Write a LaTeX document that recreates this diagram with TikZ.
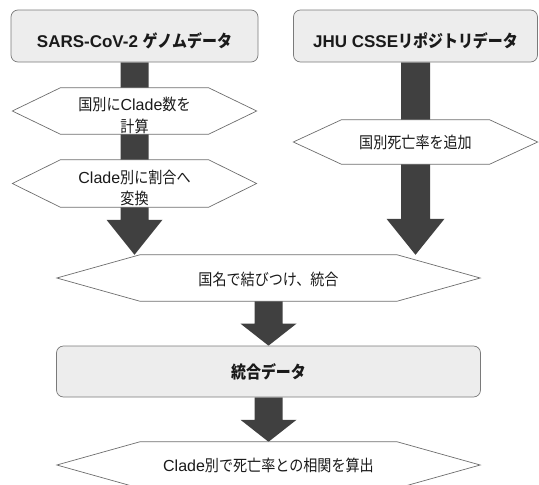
\documentclass[tikz,border=0pt]{standalone}
\usepackage{fontspec}
\setmainfont{Noto Sans CJK JP}[FakeStretch=0.88]
\newfontfamily\latinf{Liberation Sans}
\usetikzlibrary{calc,backgrounds}
\definecolor{boxfill}{HTML}{EDEDED}
\definecolor{boxline}{HTML}{7A7A7A}
\definecolor{arrowc}{HTML}{404040}
\definecolor{hexline}{HTML}{6E6E6E}
\definecolor{txt}{HTML}{1A1A1A}
\tikzset{
  box/.style={draw=boxline, fill=boxfill, rounded corners=7pt, line width=0.7pt,
    font=\bfseries\fontsize{17}{20}\selectfont, text=txt, inner sep=0pt},
  hexbody/.style={inner sep=0pt},
  hexedge/.style={draw=hexline, fill=white, line width=0.7pt},
  lbl/.style={font=\fontsize{16}{21.5}\selectfont, text=txt, align=center, inner sep=0pt},
  fat/.style={fill=arrowc},
}
\newcommand\hexpath[2]{%
  \path[hexedge] (#1.north west) -- (#1.north east) -- ([xshift=#2pt]#1.east)
    -- (#1.south east) -- (#1.south west) -- ([xshift=-#2pt]#1.west) -- cycle;}
% start, tip, half shaft, half head, head length
\newcommand\fatarrow[5]{%
  \path[fat] ($(#1)+(-#3,0)$) -- ($(#2)+(-#3,-#5)$) -- ($(#2)+(-#4,-#5)$) -- (#2)
    -- ($(#2)+(#4,-#5)$) -- ($(#2)+(#3,-#5)$) -- ($(#1)+(#3,0)$) -- cycle;}
\begin{document}
\begin{tikzpicture}[x=1pt,y=-1pt]
\useasboundingbox (0,0) rectangle (539,485);
% boxes
\node[box, minimum width=247pt, minimum height=52pt] (b1) at (134.5,36) {\raisebox{-11.5pt}[0pt][0pt]{{\latinf SARS-CoV-2 }ゲノムデータ}};
\node[box, minimum width=244pt, minimum height=52pt] (b2) at (415.5,36) {\raisebox{-11.5pt}[0pt][0pt]{{\latinf JHU CSSE}リポジトリデータ}};
\node[box, minimum width=424pt, minimum height=51pt] (b3) at (268.5,371.5) {統合データ};
% hexagon bodies
\node[hexbody, minimum width=148pt, minimum height=46pt] (h1) at (134.5,111) {};
\node[hexbody, minimum width=148pt, minimum height=47pt] (h2) at (134.5,183.5) {};
\node[hexbody, minimum width=148pt, minimum height=44pt] (hr) at (415.5,142) {};
\node[hexbody, minimum width=257pt, minimum height=46pt] (h3) at (268.5,278) {};
\node[hexbody, minimum width=257pt, minimum height=46pt] (h4) at (268.5,465) {};
% labels
\node[lbl] (t1) at (134.5,115.5) {国別に{\latinf Clade}数を\\計算};
\node[lbl] (t2) at (134.5,188) {{\latinf Clade}別に割合へ\\変換};
\node[lbl] (tr) at (415.5,142) {国別死亡率を追加};
\node[lbl] (t3) at (268.5,279) {国名で結びつけ、統合};
\node[lbl] (t4) at (268.5,465) {{\latinf Clade}別で死亡率との相関を算出};
% connector points
\coordinate (tipL) at (b1.south |- h3.north);
\coordinate (tipR) at (b2.south |- h3.north);
\begin{pgfonlayer}{background}
  \fatarrow{b1.south}{tipL}{14}{28}{35}
  \fatarrow{b2.south}{tipR}{14.5}{29}{36}
  \fatarrow{h3.south}{b3.north}{14}{28}{22}
  \fatarrow{b3.south}{h4.north}{14}{28}{22}
  \hexpath{h1}{48}
  \hexpath{h2}{48}
  \hexpath{hr}{48}
  \hexpath{h3}{83}
  \hexpath{h4}{83}
\end{pgfonlayer}
\end{tikzpicture}
\end{document}
